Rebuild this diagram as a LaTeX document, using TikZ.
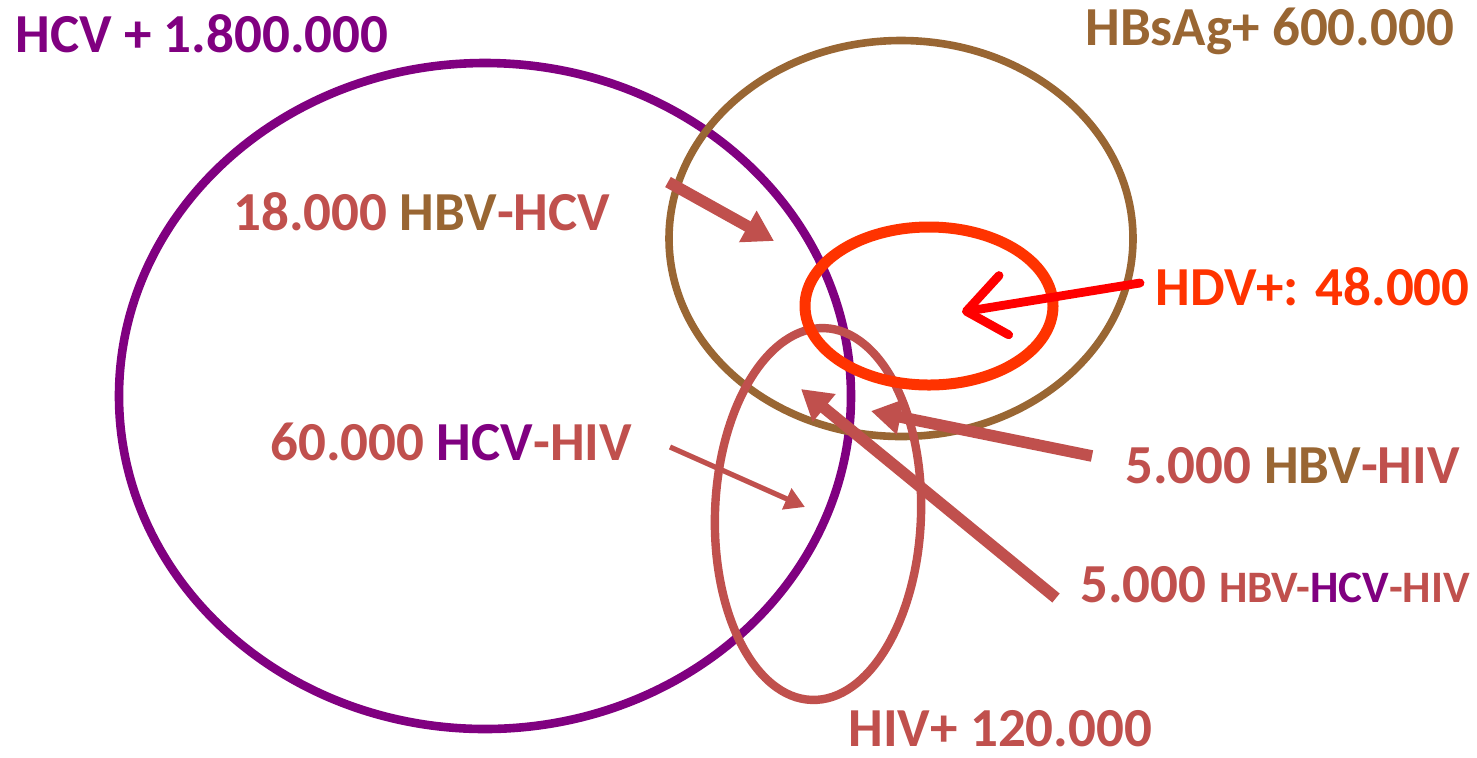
\documentclass[tikz,border=0pt]{standalone}
\usepackage{fontspec}
\setmainfont{Carlito}
\usetikzlibrary{arrows.meta}
\definecolor{hcv}{HTML}{800080}
\definecolor{hbv}{HTML}{996633}
\definecolor{hiv}{HTML}{C0504D}
\definecolor{hdv}{HTML}{FF3300}
\definecolor{hdvarrow}{HTML}{FF0000}
\newcommand{\smallpart}{\fontsize{22.5}{26}\selectfont}
\tikzset{
  lbl/.style={anchor=base west, inner sep=0pt, font=\bfseries\fontsize{27.5}{30}\selectfont},
  fatarrow/.style={draw=hiv, line width=5.8pt, -{Triangle[length=15pt,width=17pt]}},
  thinarrow/.style={draw=hiv, line width=2.6pt, -{Triangle[length=10pt,width=11pt]}},
  hdvtip/.style={draw=hdvarrow, line width=4.4pt, line cap=round, -{Straight Barb[length=19pt,width=30pt,line cap=round,line join=round]}}
}
\begin{document}
\begin{tikzpicture}[x=0.5pt,y=-0.5pt]
\useasboundingbox (0,0) rectangle (1477,757);
\fill[white] (0,0) rectangle (1477,757);
% sets
\draw[hcv, line width=4.3pt] (485,396) ellipse [x radius=366, y radius=333];
\draw[hbv, line width=3.8pt] (901,238.5) ellipse [x radius=232, y radius=198];
\draw[hiv, line width=4.2pt, rotate around={-2:(818,514)}] (818,514) ellipse [x radius=103, y radius=186];
\draw[hdv, line width=5.5pt] (929,306) ellipse [x radius=124, y radius=79];
% labels
\node[lbl, text=hcv] (tHCV) at (15,52) {HCV + 1.800.000};
\node[lbl, text=hbv] (tHBs) at (1085,45) {HBsAg+ 600.000};
\node[lbl, text=hiv] (tHBVHCV) at (233,230) {18.000 \textcolor{hbv}{HBV}-HCV};
\node[lbl, text=hiv] (tHCVHIV) at (270,460) {60.000 \textcolor{hcv}{HCV}-HIV};
\node[lbl, text=hdv] (tHDV) at (1155,305) {HDV+: 48.000};
\node[lbl, text=hiv] (tHBVHIV) at (1125,483) {5.000 \textcolor{hbv}{HBV}-HIV};
\node[lbl, text=hiv] (tTriple) at (1080,602) {5.000 {\smallpart HBV-\textcolor{hcv}{HCV}-HIV}};
\node[lbl, text=hiv] (tHIV) at (848,746) {HIV+ 120.000};
% arrow end points
\coordinate (a1s) at (668,182);
\coordinate (a1e) at (774,241);
\coordinate (a2s) at (1140,283);
\coordinate (a2e) at (962,312);
\coordinate (a3s) at (670,447);
\coordinate (a3e) at (805,507);
\coordinate (a4s) at (1092,456);
\coordinate (a4e) at (871,411);
\coordinate (a5s) at (1056,598);
\coordinate (a5e) at (801,389);
% arrows
\draw[fatarrow] (a1s) -- (a1e);
\draw[hdvtip] (a2s) -- (a2e);
\draw[thinarrow] (a3s) -- (a3e);
\draw[fatarrow] (a4s) -- (a4e);
\draw[fatarrow] (a5s) -- (a5e);
\end{tikzpicture}
\end{document}
